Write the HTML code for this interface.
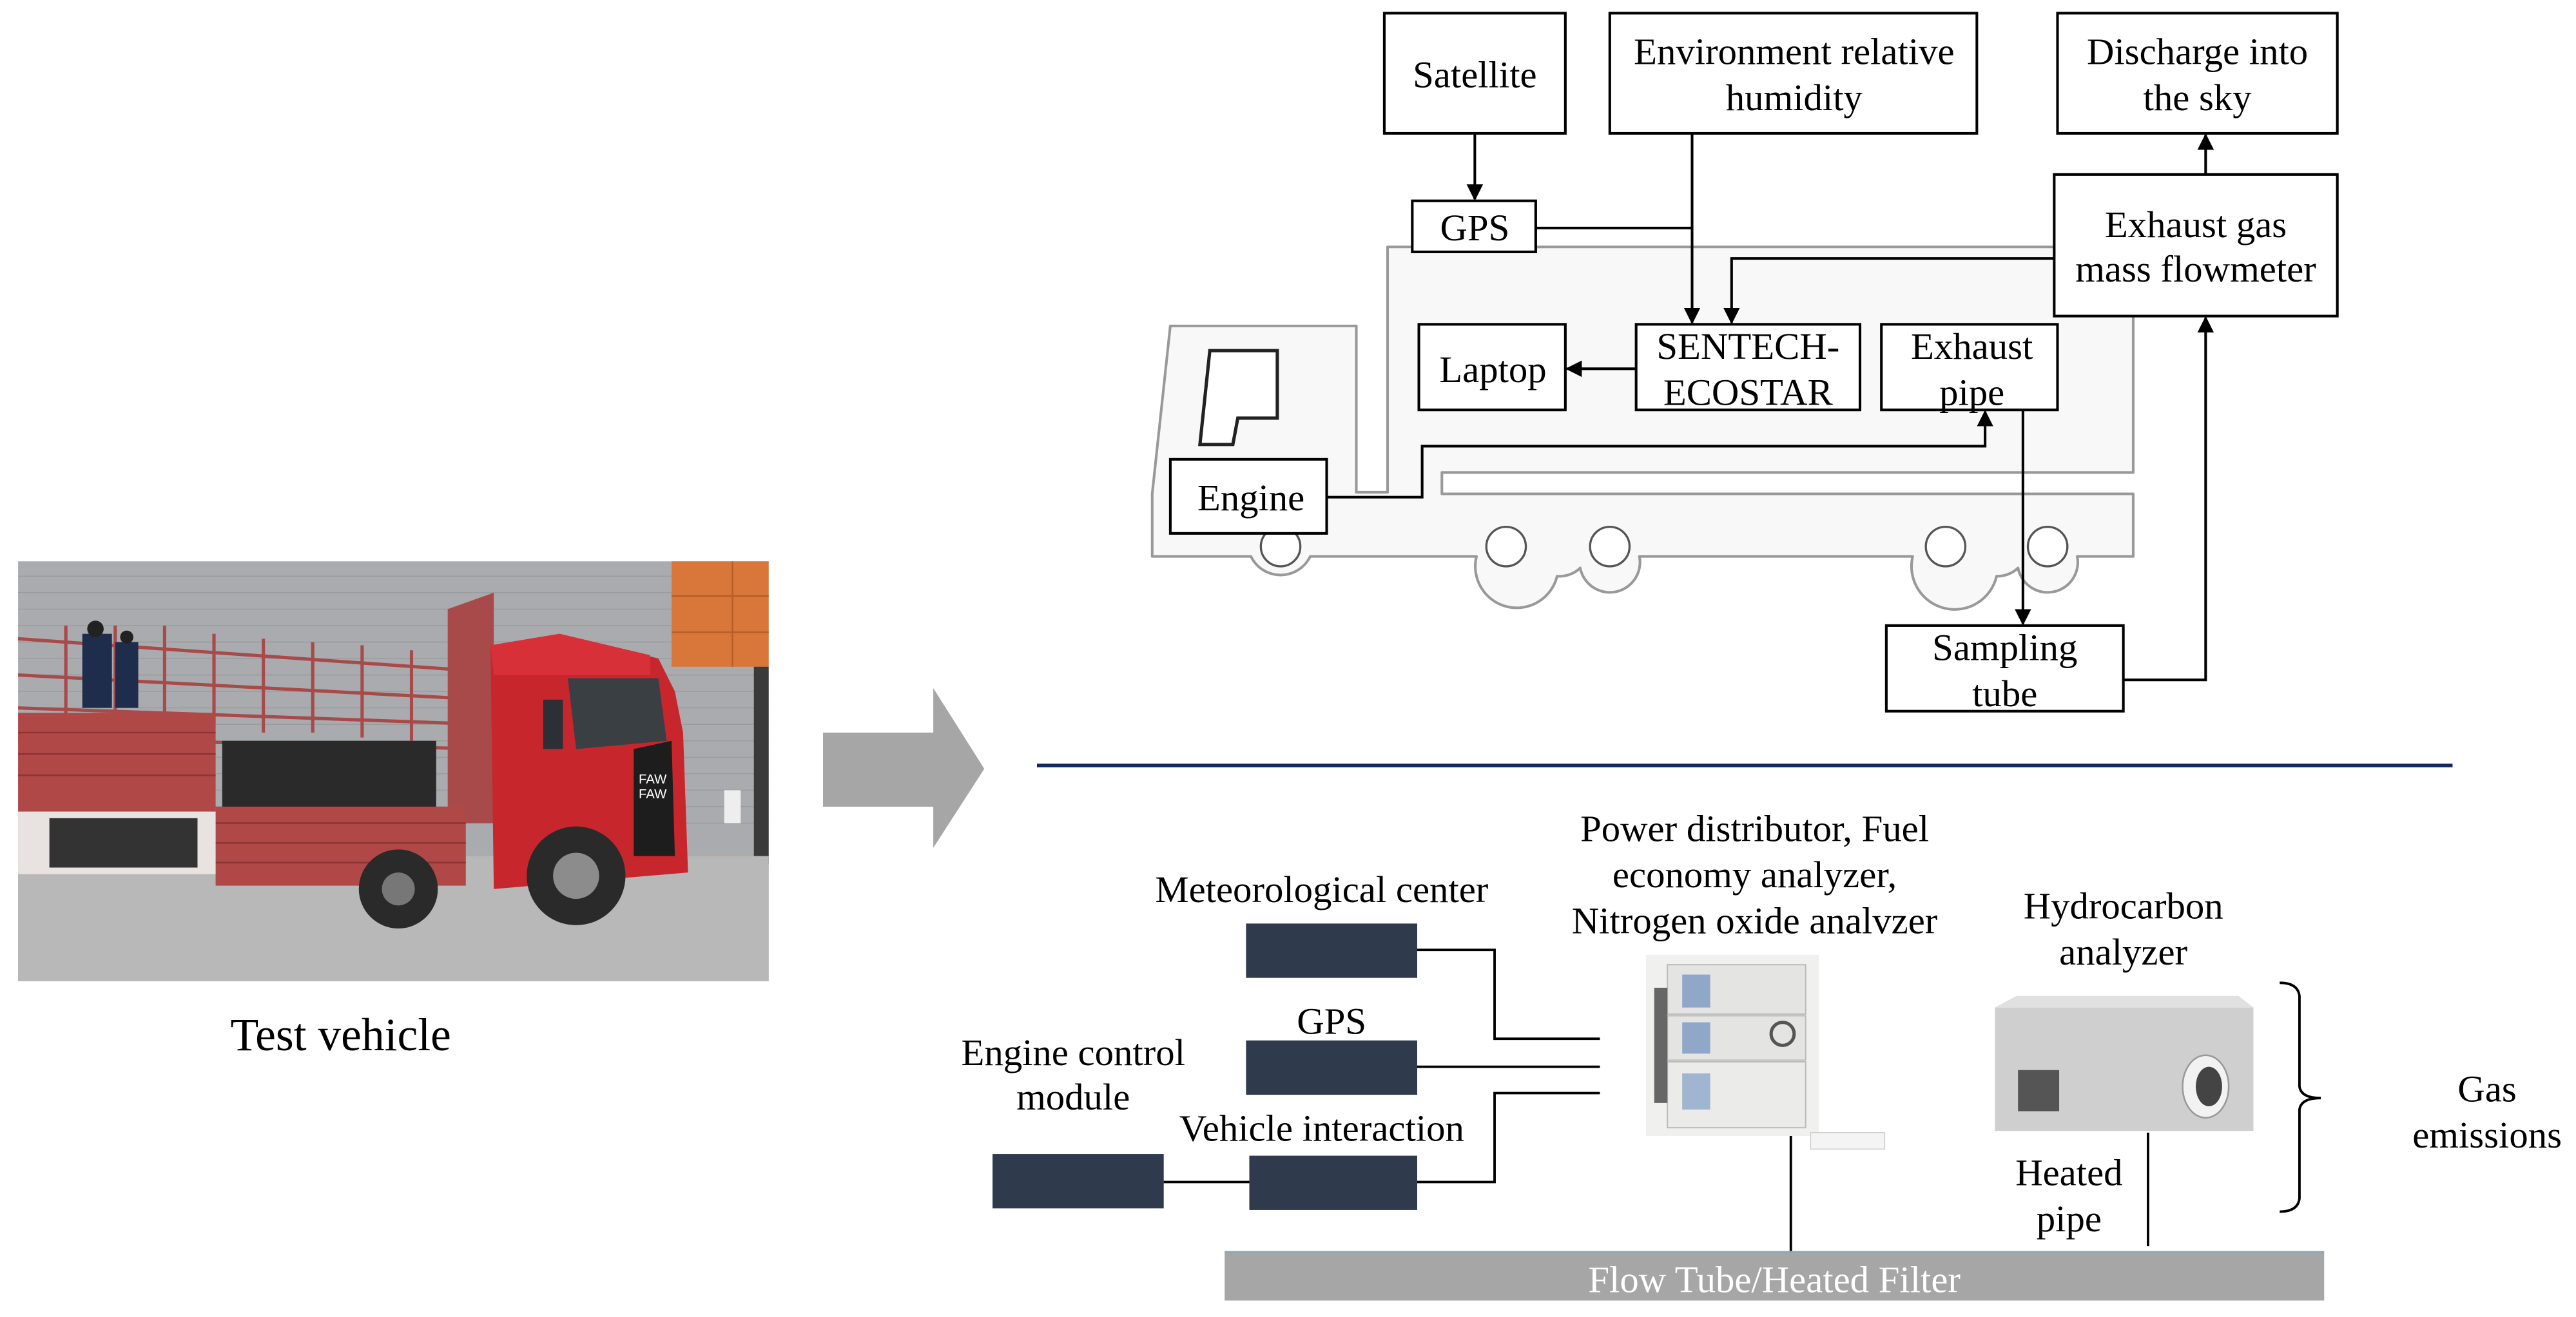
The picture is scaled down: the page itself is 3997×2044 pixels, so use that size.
<!DOCTYPE html>
<html><head><meta charset="utf-8">
<style>
html,body{margin:0;padding:0;background:#fff;}
svg{display:block;}
text{font-family:"Liberation Serif","Noto Serif CJK SC",serif;fill:#000;}
</style></head>
<body>
<svg width="3997" height="2044" viewBox="0 0 1565 800" preserveAspectRatio="none" xmlns="http://www.w3.org/2000/svg" font-family="Liberation Serif, serif">
<defs>
<marker id="ah" markerWidth="10" markerHeight="10" refX="9" refY="5" orient="auto" markerUnits="userSpaceOnUse">
<path d="M0,0 L10,5 L0,10 Z" fill="#000"/>
</marker>
</defs>

<!-- ===== Photo ===== -->
<g>
<rect x="11" y="341" width="456" height="255" fill="#a9abae"/>
<g stroke="#9a9c9f" stroke-width="0.6">
<line x1="11" y1="350" x2="410" y2="350"/><line x1="11" y1="360" x2="410" y2="360"/><line x1="11" y1="370" x2="410" y2="370"/><line x1="11" y1="380" x2="410" y2="380"/><line x1="11" y1="390" x2="410" y2="390"/><line x1="11" y1="400" x2="410" y2="400"/><line x1="11" y1="410" x2="467" y2="410"/><line x1="11" y1="420" x2="467" y2="420"/><line x1="11" y1="430" x2="467" y2="430"/><line x1="11" y1="440" x2="467" y2="440"/><line x1="11" y1="450" x2="467" y2="450"/><line x1="11" y1="460" x2="467" y2="460"/><line x1="11" y1="470" x2="467" y2="470"/><line x1="11" y1="480" x2="467" y2="480"/><line x1="11" y1="490" x2="467" y2="490"/><line x1="11" y1="500" x2="467" y2="500"/>
</g>
<rect x="408" y="341" width="59" height="64" fill="#d9773a"/>
<g stroke="#b85e28" stroke-width="1"><line x1="408" y1="362" x2="467" y2="362"/><line x1="408" y1="384" x2="467" y2="384"/><line x1="445" y1="341" x2="445" y2="405"/></g>
<rect x="458" y="405" width="9" height="120" fill="#3a3a3a"/>
<rect x="11" y="520" width="456" height="76" fill="#b8b8b8"/>
<g stroke="#a84a4a" stroke-width="2" fill="none">
<line x1="11" y1="388" x2="295" y2="408"/><line x1="11" y1="410" x2="295" y2="425"/><line x1="11" y1="430" x2="295" y2="440"/><line x1="11" y1="448" x2="295" y2="455"/>
<line x1="40" y1="380" x2="40" y2="440"/><line x1="70" y1="380" x2="70" y2="440"/><line x1="100" y1="380" x2="100" y2="440"/><line x1="130" y1="385" x2="130" y2="440"/><line x1="160" y1="388" x2="160" y2="445"/><line x1="190" y1="390" x2="190" y2="445"/><line x1="220" y1="392" x2="220" y2="448"/><line x1="250" y1="395" x2="250" y2="450"/><line x1="280" y1="398" x2="280" y2="452"/>
</g>
<polygon points="272,370 300,360 300,500 272,500" fill="#a84a4a"/>
<rect x="11" y="433" width="120" height="60" fill="#b04848"/>
<rect x="131" y="490" width="152" height="48" fill="#b04848"/>
<g stroke="#8e3434" stroke-width="1"><line x1="11" y1="445" x2="131" y2="445"/><line x1="11" y1="458" x2="131" y2="458"/><line x1="11" y1="471" x2="131" y2="471"/><line x1="131" y1="500" x2="283" y2="500"/><line x1="131" y1="512" x2="283" y2="512"/><line x1="131" y1="524" x2="283" y2="524"/></g>
<rect x="135" y="450" width="130" height="40" fill="#2a2a2a"/>
<rect x="11" y="493" width="120" height="38" fill="#e8e2e0"/>
<rect x="30" y="497" width="90" height="30" fill="#333"/>
<rect x="50" y="385" width="18" height="45" fill="#1f2d4d"/><circle cx="58" cy="382" r="5" fill="#222"/>
<rect x="70" y="390" width="14" height="40" fill="#1f2d4d"/><circle cx="77" cy="387" r="4" fill="#222"/>
<polygon points="298,392 340,385 400,400 410,420 415,445 418,530 300,540" fill="#c8262d"/>
<polygon points="298,392 340,385 395,398 395,410 300,410" fill="#d83038"/>
<polygon points="345,412 400,412 405,450 350,455" fill="#3a3f44"/>
<rect x="330" y="425" width="12" height="30" fill="#2c3036"/>
<polygon points="385,455 408,450 410,520 385,520" fill="#1d1d1d"/>
<text x="388" y="476" font-size="8" style="fill:#fff;font-family:'Liberation Sans',sans-serif">FAW</text>
<text x="388" y="485" font-size="8" style="fill:#fff;font-family:'Liberation Sans',sans-serif">FAW</text>
<circle cx="350" cy="532" r="30" fill="#2a2a2a"/><circle cx="350" cy="532" r="14" fill="#8c8c8c"/>
<circle cx="242" cy="540" r="24" fill="#2a2a2a"/><circle cx="242" cy="540" r="10" fill="#777"/>
<rect x="440" y="480" width="10" height="20" fill="#eee"/>
</g>
<text x="207" y="638" font-size="28" text-anchor="middle">Test vehicle</text>

<polygon points="500,445 567,445 567,418 598,467 567,515 567,490 500,490" fill="#a6a6a6"/>

<!-- ===== Truck outline ===== -->
<g fill="#f8f8f8" stroke="#999" stroke-width="1.6" stroke-linejoin="round">
<path d="M711,198 L824,198 L824,299 L843,299 L843,150 L1296,150 L1296,287 L876,287 L876,300 L1296,300 L1296,338 L1262,338 A18,18 0 0 1 1226,345 A18,18 0 0 1 1213,350 A18,18 0 0 1 1162,338 L996,338 A18,18 0 0 1 960,345 A18,18 0 0 1 946,350 A18,18 0 0 1 897,338 L796,338 A20,20 0 0 1 760,338 L700,338 L700,300 Z"/>
</g>
<g fill="#fff" stroke="#555" stroke-width="1.3">
<circle cx="778" cy="332" r="12"/><circle cx="915" cy="332" r="12"/><circle cx="978" cy="332" r="12"/><circle cx="1182" cy="332" r="12"/><circle cx="1244" cy="332" r="12"/>
</g>
<path d="M735,213 L776,213 L776,254 L752,254 L749,270 L729,270 Z" fill="#fff" stroke="#222" stroke-width="2"/>

<g fill="#fff" stroke="#000" stroke-width="1.6">
<rect x="841" y="8" width="110" height="73"/>
<rect x="978" y="8" width="223" height="73"/>
<rect x="1250" y="8" width="170" height="73"/>
<rect x="858" y="122" width="75" height="31"/>
<rect x="1248" y="106" width="172" height="86"/>
<rect x="862" y="197" width="89" height="52"/>
<rect x="994" y="197" width="136" height="52"/>
<rect x="1143" y="197" width="107" height="52"/>
<rect x="711" y="279" width="95" height="45"/>
<rect x="1146" y="380" width="144" height="52"/>
</g>
<g font-size="23" text-anchor="middle">
<text x="896" y="53">Satellite</text>
<text x="1090" y="39">Environment relative</text>
<text x="1090" y="67">humidity</text>
<text x="1335" y="39">Discharge into</text>
<text x="1335" y="67">the sky</text>
<text x="896" y="146">GPS</text>
<text x="1334" y="144">Exhaust gas</text>
<text x="1334" y="171">mass flowmeter</text>
<text x="907" y="232">Laptop</text>
<text x="1062" y="218">SENTECH-</text>
<text x="1062" y="246">ECOSTAR</text>
<text x="1198" y="218">Exhaust</text>
<text x="1198" y="246">pipe</text>
<text x="760" y="310">Engine</text>
<text x="1218" y="401">Sampling</text>
<text x="1218" y="429">tube</text>
</g>

<g fill="none" stroke="#000" stroke-width="1.6">
<line x1="896" y1="81" x2="896" y2="121" marker-end="url(#ah)"/>
<polyline points="933,138.5 1028,138.5"/>
<line x1="1028" y1="81" x2="1028" y2="196" marker-end="url(#ah)"/>
<polyline points="1248,157 1052,157 1052,196" marker-end="url(#ah)"/>
<line x1="994" y1="224" x2="952" y2="224" marker-end="url(#ah)"/>
<polyline points="806,302 864,302 864,271 1206,271 1206,250" marker-end="url(#ah)"/>
<line x1="1229" y1="249" x2="1229" y2="379" marker-end="url(#ah)"/>
<polyline points="1290,413 1340,413 1340,193" marker-end="url(#ah)"/>
<line x1="1340" y1="106" x2="1340" y2="82" marker-end="url(#ah)"/>
</g>

<line x1="630" y1="465" x2="1490" y2="465" stroke="#0e2a5c" stroke-width="2.2"/>

<g fill="#2f3b4d">
<rect x="757" y="561" width="104" height="33"/>
<rect x="757" y="632" width="104" height="33"/>
<rect x="759" y="702" width="102" height="33"/>
<rect x="603" y="701" width="104" height="33"/>
</g>
<g fill="none" stroke="#000" stroke-width="1.5">
<polyline points="861,577 908,577 908,631 972,631"/>
<line x1="861" y1="648" x2="972" y2="648"/>
<polyline points="861,718 908,718 908,664 972,664"/>
<line x1="707" y1="718" x2="759" y2="718"/>
<line x1="1088" y1="690" x2="1088" y2="760"/>
<line x1="1305" y1="688" x2="1305" y2="757"/>
<path d="M1385,597 Q1396,597 1397,605 L1397,660 Q1398,667 1410,667 Q1398,667 1397,674 L1397,728 Q1396,736 1385,736"/>
</g>

<g>
<rect x="1000" y="580" width="105" height="110" fill="#f0f0ee"/>
<rect x="1013" y="586" width="84" height="30" fill="#e4e4e2" stroke="#bbb" stroke-width="0.8"/>
<rect x="1013" y="617" width="84" height="27" fill="#e4e4e2" stroke="#bbb" stroke-width="0.8"/>
<rect x="1013" y="645" width="84" height="40" fill="#ebebea" stroke="#bbb" stroke-width="0.8"/>
<rect x="1022" y="592" width="17" height="20" fill="#8fa8c8"/>
<rect x="1022" y="621" width="17" height="19" fill="#8fa8c8"/>
<rect x="1022" y="652" width="17" height="22" fill="#9fb5d0"/>
<rect x="1005" y="600" width="8" height="70" fill="#666"/>
<circle cx="1083" cy="628" r="7" fill="none" stroke="#555" stroke-width="2"/>
<rect x="1100" y="688" width="45" height="10" fill="#f4f4f4" stroke="#ccc" stroke-width="0.6"/>
</g>
<g>
<rect x="1212" y="612" width="157" height="75" fill="#cfcfcf"/>
<polygon points="1212,612 1225,605 1360,605 1369,612" fill="#e0e0e0"/>
<rect x="1226" y="650" width="25" height="25" fill="#555"/>
<ellipse cx="1340" cy="660" rx="14" ry="19" fill="#f2f2f2" stroke="#999"/>
<ellipse cx="1342" cy="660" rx="8" ry="12" fill="#444"/>
</g>

<rect x="744" y="760" width="668" height="30" fill="#a6a6a6"/>
<line x1="744" y1="760.5" x2="1412" y2="760.5" stroke="#8ea4c0" stroke-width="1"/>
<text x="1078" y="785" font-size="23" text-anchor="middle" style="fill:#fff">Flow Tube/Heated Filter</text>

<g font-size="23" text-anchor="middle">
<text x="803" y="548">Meteorological center</text>
<text x="809" y="628">GPS</text>
<text x="652" y="647">Engine control</text>
<text x="652" y="674">module</text>
<text x="803" y="693">Vehicle interaction</text>
<text x="1066" y="511">Power distributor, Fuel</text>
<text x="1066" y="539">economy analyzer,</text>
<text x="1066" y="567">Nitrogen oxide analvzer</text>
<text x="1290" y="558">Hydrocarbon</text>
<text x="1290" y="586">analyzer</text>
<text x="1257" y="720">Heated</text>
<text x="1257" y="748">pipe</text>
<text x="1511" y="669">Gas</text>
<text x="1511" y="697">emissions</text>
</g>
</svg>
</body></html>
